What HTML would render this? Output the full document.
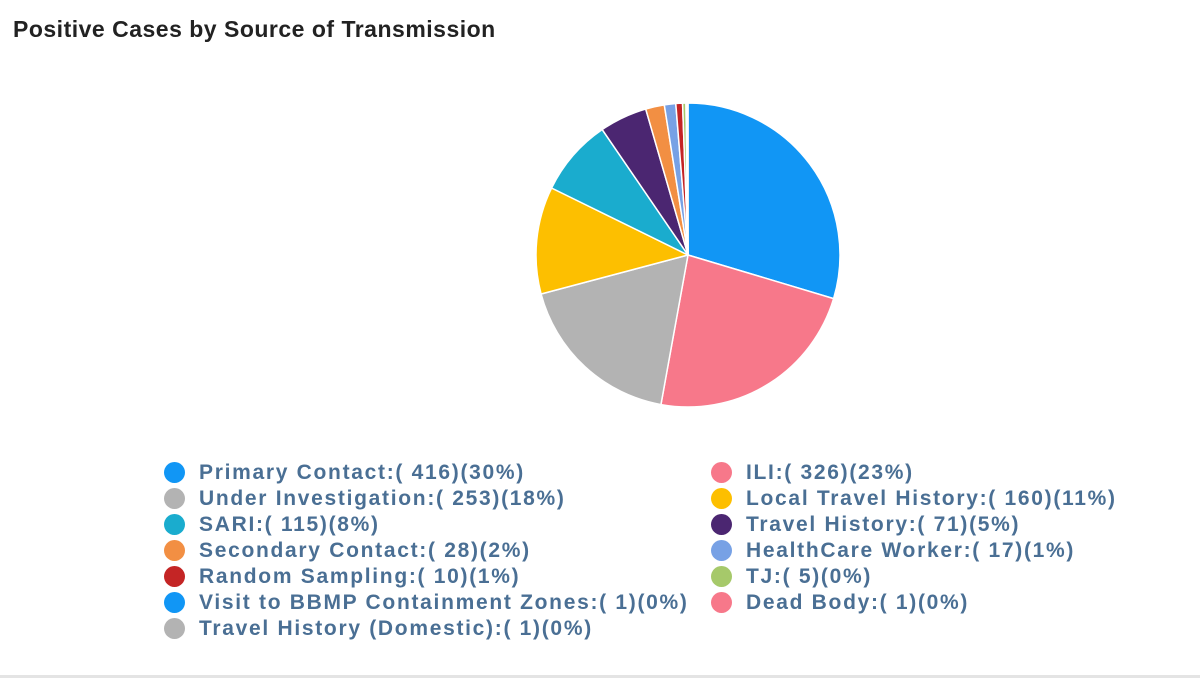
<!DOCTYPE html>
<html><head><style>
html,body{margin:0;padding:0;background:#fff;width:1200px;height:678px;overflow:hidden;font-family:"Liberation Sans",sans-serif}
.title{position:absolute;left:13px;top:16px;font-size:23px;font-weight:bold;color:#222;letter-spacing:0.5px}
.bottom{position:absolute;left:0;top:675px;width:1200px;height:3px;background:#e4e4e4}
.leg{position:absolute;font-size:21px;font-weight:bold;color:#4a6f94;letter-spacing:1.7px;white-space:nowrap;line-height:26px}
.dot{position:absolute;width:21px;height:21px;border-radius:50%}
</style></head><body>
<div class="title">Positive Cases by Source of Transmission</div>
<svg id="pie" width="1200" height="678" style="position:absolute;left:0;top:0"></svg>
<div id="legend"></div>
<div class="bottom"></div>
<script>
var d=[["Primary Contact",416,30,"#1196f5"],["ILI",326,23,"#f7788a"],["Under Investigation",253,18,"#b3b3b3"],["Local Travel History",160,11,"#fdbf00"],["SARI",115,8,"#1aacce"],["Travel History",71,5,"#4b2671"],["Secondary Contact",28,2,"#f28f43"],["HealthCare Worker",17,1,"#77a1e5"],["Random Sampling",10,1,"#c42525"],["TJ",5,0,"#a6c96a"],["Visit to BBMP Containment Zones",1,0,"#1196f5"],["Dead Body",1,0,"#f7788a"],["Travel History (Domestic)",1,0,"#b3b3b3"]];
var tot=0;d.forEach(function(e){tot+=e[1]});
var cx=688,cy=255,r=152,a=-Math.PI/2,s="";
d.forEach(function(e){var b=a+e[1]/tot*2*Math.PI;
var x1=cx+r*Math.cos(a),y1=cy+r*Math.sin(a),x2=cx+r*Math.cos(b),y2=cy+r*Math.sin(b);
s+='<path d="M'+cx+' '+cy+' L'+x1+' '+y1+' A'+r+' '+r+' 0 '+((b-a)>Math.PI?1:0)+' 1 '+x2+' '+y2+' Z" fill="'+e[3]+'" stroke="#fff" stroke-width="1.5" stroke-linejoin="round"/>';a=b;});
document.getElementById('pie').innerHTML=s;
var h="";
d.forEach(function(e,i){var col=i%2,row=Math.floor(i/2);var x=col?711:164,tx=col?746:199,y=460+row*26;
h+='<div class="dot" style="left:'+x+'px;top:'+(y+2)+'px;background:'+e[3]+'"></div>';
h+='<div class="leg" style="left:'+tx+'px;top:'+y+'px">'+e[0]+':( '+e[1]+')('+e[2]+'%)</div>';});
document.getElementById('legend').innerHTML=h;
</script>
</body></html>
